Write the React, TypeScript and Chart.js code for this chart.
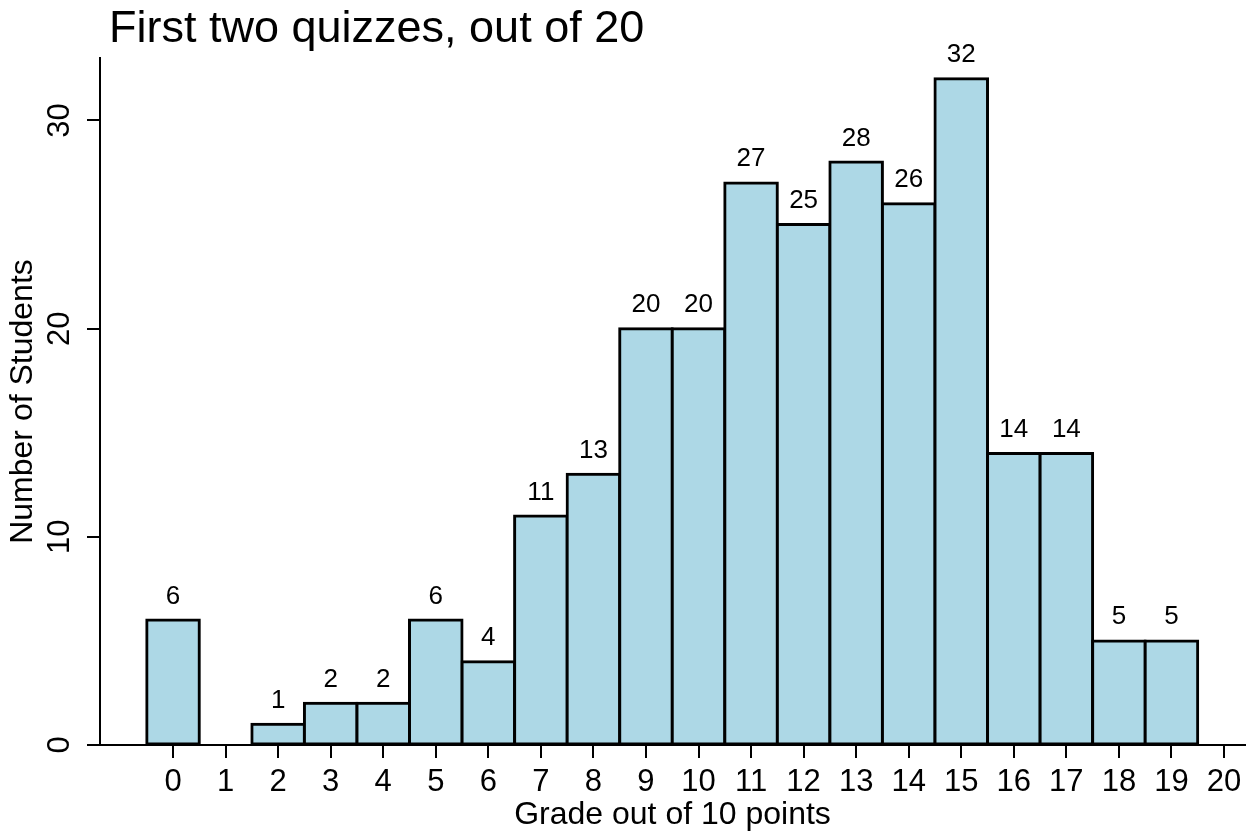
import { useEffect, useRef } from 'react';
import { Chart, registerables } from 'chart.js';

Chart.register(...registerables);

const grades = [0, 1, 2, 3, 4, 5, 6, 7, 8, 9, 10, 11, 12, 13, 14, 15, 16, 17, 18, 19];
const counts = [6, 0, 1, 2, 2, 6, 4, 11, 13, 20, 20, 27, 25, 28, 26, 32, 14, 14, 5, 5];
const xTickValues = [0, 1, 2, 3, 4, 5, 6, 7, 8, 9, 10, 11, 12, 13, 14, 15, 16, 17, 18, 19, 20];
const yTickValues = [0, 10, 20, 30];
const mainTitle = 'First two quizzes, out of 20';
const xTitle = 'Grade out of 10 points';
const yTitle = 'Number of Students';

const FONT = '"Liberation Sans", Arial, Helvetica, sans-serif';

export default function App() {
  const ref = useRef<HTMLCanvasElement | null>(null);

  useEffect(() => {
    document.body.style.margin = '0';
    const canvas = ref.current;
    if (!canvas) return;

    const titlePlugin = {
      id: 'mainTitle',
      afterDraw(chart: any) {
        const ctx = chart.ctx;
        ctx.save();
        ctx.font = `45px ${FONT}`;
        ctx.fillStyle = '#000';
        ctx.textAlign = 'left';
        ctx.textBaseline = 'alphabetic';
        ctx.fillText(mainTitle, chart.chartArea.left + 9, 42);
        ctx.restore();
      },
    };

    const valueLabels = {
      id: 'valueLabels',
      afterDatasetsDraw(chart: any) {
        const ctx = chart.ctx;
        const meta = chart.getDatasetMeta(0);
        ctx.save();
        ctx.font = `26px ${FONT}`;
        ctx.fillStyle = '#000';
        ctx.textAlign = 'center';
        ctx.textBaseline = 'alphabetic';
        meta.data.forEach((el: any, i: number) => {
          if (counts[i] > 0) ctx.fillText(String(counts[i]), el.x, el.y - 16.5);
        });
        ctx.restore();
      },
    };

    const chart = new Chart(canvas, {
      type: 'bar',
      data: {
        datasets: [
          {
            data: grades.map((g, i) => ({ x: g, y: counts[i] > 0 ? counts[i] : null })) as any,
            backgroundColor: '#ADD8E6',
            borderColor: '#000',
            borderWidth: 3,
            borderSkipped: false,
            inflateAmount: 1.5,
            barPercentage: 1,
            categoryPercentage: 1,
          } as any,
        ],
      },
      options: {
        responsive: false,
        devicePixelRatio: 1,
        animation: false,
        layout: { padding: { top: 58, right: 4, left: 0, bottom: 0 } },
        plugins: {
          legend: { display: false },
          tooltip: { enabled: false },
          title: { display: false },
        },
        scales: {
          x: {
            type: 'linear',
            offset: false,
            min: -1.39,
            max: 20.4,
            afterBuildTicks: (s: any) => {
              s.ticks = xTickValues.map((v) => ({ value: v }));
            },
            afterFit: (s: any) => {
              s.height = 89;
            },
            grid: { display: true, offset: false, drawOnChartArea: false, drawTicks: true, tickLength: 13, color: '#000', lineWidth: 2 },
            border: { display: true, color: '#000', width: 2 },
            ticks: {
              font: { family: FONT, size: 31 },
              color: '#000',
              padding: 6,
              maxRotation: 0,
              autoSkip: false,
              callback: (v: any) => String(v),
            },
            title: {
              display: true,
              text: xTitle,
              font: { family: FONT, size: 32 },
              color: '#000',
              padding: { top: 0, bottom: 0 },
            },
          },
          y: {
            type: 'linear',
            min: 0,
            max: 33,
            afterBuildTicks: (s: any) => {
              s.ticks = yTickValues.map((v) => ({ value: v }));
            },
            afterFit: (s: any) => {
              s.width = 100;
            },
            grid: { display: true, drawOnChartArea: false, drawTicks: true, tickLength: 13, color: '#000', lineWidth: 2 },
            border: { display: true, color: '#000', width: 2 },
            ticks: {
              font: { family: FONT, size: 31 },
              color: '#000',
              minRotation: 90,
              maxRotation: 90,
              crossAlign: 'center',
              padding: 9,
              callback: (v: any) => String(v),
            },
            title: {
              display: true,
              text: yTitle,
              font: { family: FONT, size: 32 },
              color: '#000',
              padding: { top: 4, bottom: 0 },
            },
          },
        },
      } as any,
      plugins: [titlePlugin, valueLabels],
    });

    return () => chart.destroy();
  }, []);

  return (
    <div style={{ position: 'fixed', left: 0, top: 0, width: 1249, height: 834, background: '#fff' }}>
      <canvas ref={ref} width={1249} height={834} style={{ display: 'block', width: 1249, height: 834 }} />
    </div>
  );
}
